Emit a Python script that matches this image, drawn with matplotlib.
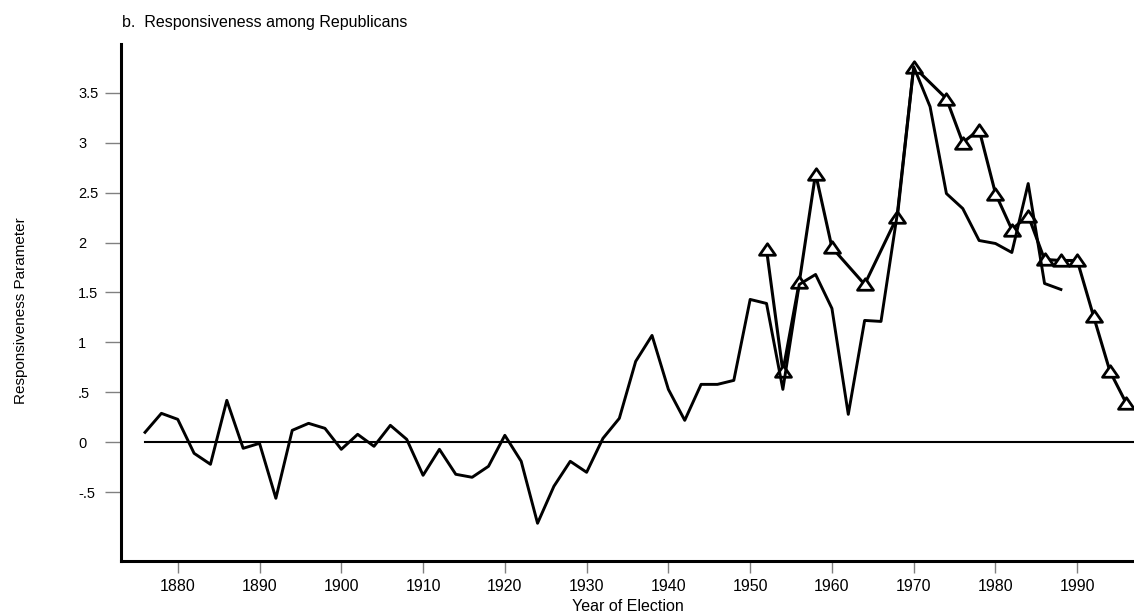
import matplotlib
matplotlib.use("Agg")
import matplotlib.pyplot as plt
from matplotlib.path import Path

plt.rcParams["font.family"] = ["Liberation Sans", "DejaVu Sans"]

# all elections, 1876-1988
years_all = [1876, 1878, 1880, 1882, 1884, 1886, 1888, 1890, 1892, 1894,
             1896, 1898, 1900, 1902, 1904, 1906, 1908, 1910, 1912, 1914,
             1916, 1918, 1920, 1922, 1924, 1926, 1928, 1930, 1932, 1934,
             1936, 1938, 1940, 1942, 1944, 1946, 1948, 1950, 1952, 1954,
             1956, 1958, 1960, 1962, 1964, 1966, 1968, 1970, 1972, 1974,
             1976, 1978, 1980, 1982, 1984, 1986, 1988]
resp_all = [0.10, 0.29, 0.23, -0.11, -0.22, 0.42, -0.06, -0.01, -0.56, 0.12,
            0.19, 0.14, -0.07, 0.08, -0.04, 0.17, 0.03, -0.33, -0.07, -0.32,
            -0.35, -0.24, 0.07, -0.19, -0.81, -0.44, -0.19, -0.30, 0.04, 0.24,
            0.81, 1.07, 0.53, 0.22, 0.58, 0.58, 0.62, 1.43, 1.39, 0.53,
            1.58, 1.68, 1.34, 0.28, 1.22, 1.21, 2.29, 3.76, 3.36, 2.49,
            2.34, 2.02, 1.99, 1.90, 2.59, 1.59, 1.53]

# survey years (triangles)
years_tri = [1952, 1954, 1956, 1958, 1960, 1964, 1968, 1970, 1974, 1976,
             1978, 1980, 1982, 1984, 1986, 1988, 1990, 1992, 1994, 1996]
resp_tri = [1.93, 0.71, 1.60, 2.69, 1.95, 1.58, 2.26, 3.76, 3.44, 3.00,
            3.13, 2.49, 2.13, 2.27, 1.83, 1.82, 1.82, 1.26, 0.71, 0.39]

yticks = [-0.5, 0, 0.5, 1, 1.5, 2, 2.5, 3, 3.5]
ytick_labels = ["-.5", "0", ".5", "1", "1.5", "2", "2.5", "3", "3.5"]
xticks = [1880, 1890, 1900, 1910, 1920, 1930, 1940, 1950, 1960, 1970, 1980, 1990]

# flat open triangle
tri = Path([(0, 0.72), (-1, -0.72), (1, -0.72), (0, 0.72)],
           [Path.MOVETO, Path.LINETO, Path.LINETO, Path.CLOSEPOLY])

fig = plt.figure(figsize=(11.34, 6.15), dpi=100)
ax = fig.add_axes([0.1067, 0.0873, 0.8933, 0.8407])

ax.plot([1876, 1997], [0, 0], color="black", lw=1.5, zorder=1)
ax.plot(years_tri, resp_tri, color="black", lw=2.2, marker=tri, markersize=11.5,
        markerfacecolor="white", markeredgecolor="black", markeredgewidth=2, zorder=2)
ax.plot(years_all, resp_all, color="black", lw=2.1, zorder=3)

ax.set_xlim(1873.06, 1996.94)
ax.set_ylim(-1.191, 3.984)

for s in ["top", "right"]:
    ax.spines[s].set_visible(False)
for s in ["left", "bottom"]:
    ax.spines[s].set_linewidth(2.2)

ax.set_xticks(xticks)
ax.set_xticklabels([str(x) for x in xticks], fontsize=11.5)
ax.set_yticks(yticks)
ax.set_yticklabels(ytick_labels, fontsize=10.5)
for lab in ax.get_yticklabels():
    lab.set_horizontalalignment("left")

ax.tick_params(axis="x", length=8.9, width=1, color="#808080", pad=4)
ax.tick_params(axis="y", length=11.5, width=1, color="#808080", pad=19.4)

fig.text(0.1073, 1 - 27.5 / 615, "b.  Responsiveness among Republicans",
         fontsize=11.5, va="baseline", ha="left")
fig.text(628 / 1134, 1 - 611 / 615, "Year of Election", fontsize=11.5,
         va="baseline", ha="center")
fig.text(21 / 1134, 1 - 311 / 615, "Responsiveness Parameter", fontsize=11,
         rotation=90, va="center", ha="center")

fig.savefig("out.png", dpi=100)
